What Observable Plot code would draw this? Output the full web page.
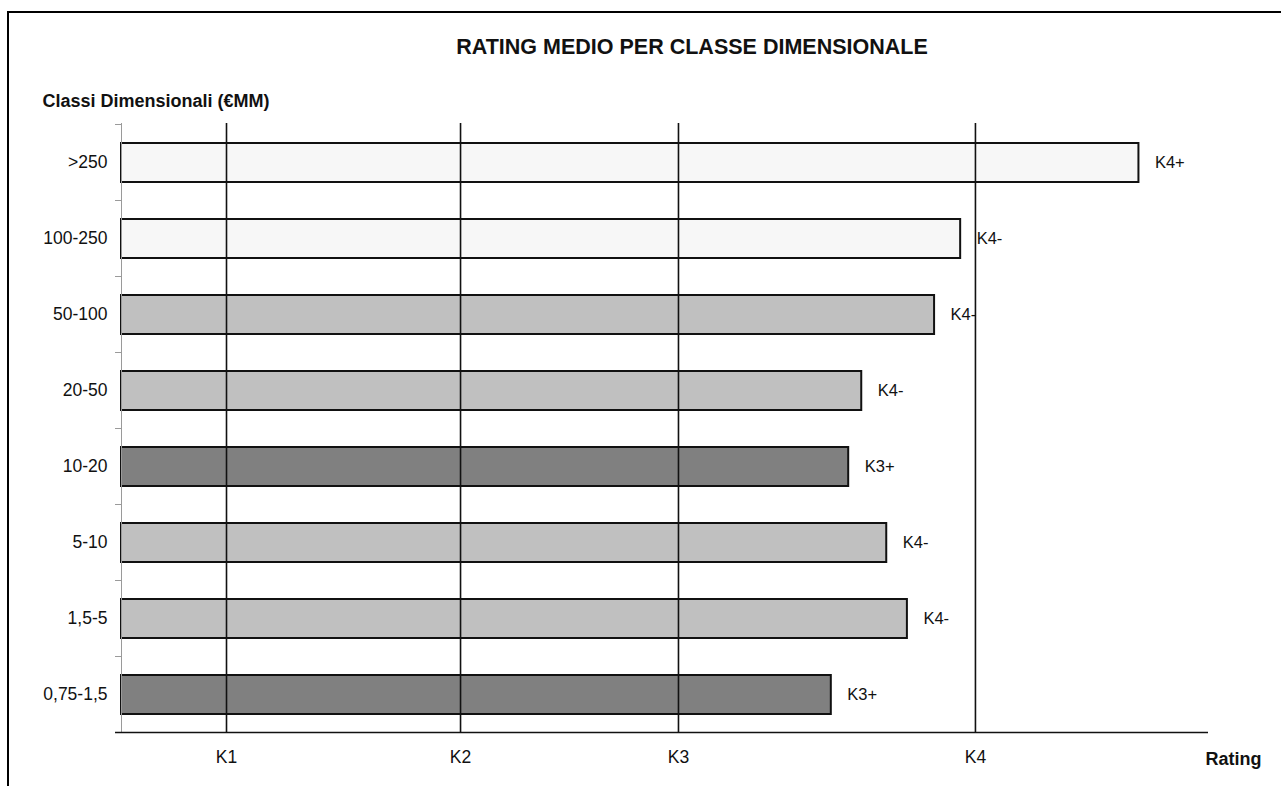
<!DOCTYPE html>
<html>
<head>
<meta charset="utf-8">
<script src="https://cdn.jsdelivr.net/npm/d3@7"></script>
<script src="https://cdn.jsdelivr.net/npm/@observablehq/plot@0.6"></script>
<style>
  html, body { margin: 0; padding: 0; background: #fff; }
  #wrap { position: relative; width: 1281px; height: 786px; overflow: hidden; }
  #border { position: absolute; left: 7px; top: 11px; right: -4px; bottom: -4px;
            border-top: 2px solid #000; border-left: 2px solid #000; }
  #chart { position: absolute; left: 0; top: 0; }
</style>
</head>
<body>
<div id="wrap"><div id="border"></div><div id="chart"></div></div>
<script>
// ---- data ----
const classes = [">250", "100-250", "50-100", "20-50", "10-20", "5-10", "1,5-5", "0,75-1,5"];
const ratings = [9.36, 7.72, 7.48, 6.81, 6.69, 7.04, 7.23, 6.53];
const ratingLabels = ["K4+", "K4-", "K4-", "K4-", "K3+", "K4-", "K4-", "K3+"];
const shades = ["chiaro", "chiaro", "medio", "medio", "scuro", "medio", "medio", "scuro"];
const tickValues = [0.966, 3.119, 5.124, 7.856];
const tickLabels = ["K1", "K2", "K3", "K4"];
const title = "RATING MEDIO PER CLASSE DIMENSIONALE";
const yTitle = "Classi Dimensionali (€MM)";
const xTitle = "Rating";

const data = classes.map((c, i) => ({classe: c, rating: ratings[i], label: ratingLabels[i], shade: shades[i]}));
const tickFmt = new Map(tickValues.map((v, i) => [v, tickLabels[i]]));
const font = "'Liberation Sans', Arial, Helvetica, sans-serif";

const chart = Plot.plot({
  width: 1281,
  height: 786,
  marginLeft: 121,
  marginRight: 73,
  marginTop: 123,
  marginBottom: 53,
  style: {fontFamily: font, fontSize: "17.5px", color: "#111", background: "transparent"},
  x: {domain: [0, 10], ticks: tickValues, tickFormat: d => tickFmt.get(d), tickSize: 0, tickPadding: 17, label: null},
  y: {domain: classes, padding: 0, tickSize: 0, tickPadding: 14, label: null},
  color: {domain: ["chiaro", "medio", "scuro"], range: ["#f7f7f7", "#c0c0c0", "#808080"]},
  marks: [
    Plot.barX(data, {y: "classe", x: "rating", fill: "shade", stroke: "#111", strokeWidth: 2, insetTop: 19, insetBottom: 18}),
    Plot.ruleX(tickValues, {stroke: "#111", strokeWidth: 1.6}),
    Plot.ruleX([0], {stroke: "#9a9a9a", strokeWidth: 1}),
    Plot.ruleY(classes, {y: d => d, x1: -0.055, x2: 0, dy: -38, stroke: "#9a9a9a", strokeWidth: 1}),
    Plot.ruleY([classes[classes.length - 1]], {y: d => d, x1: -0.055, x2: 10, dy: 38, stroke: "#111", strokeWidth: 1.6}),
    Plot.text(data, {y: "classe", x: "rating", text: "label", dx: 16, textAnchor: "start", fontSize: 16.5, fill: "#111"}),
    Plot.text([title], {frameAnchor: "top", lineAnchor: "middle", dx: 27, dy: -76, fontSize: 21.5, fontWeight: "bold", fill: "#111"}),
    Plot.text([yTitle], {frameAnchor: "top-left", textAnchor: "start", lineAnchor: "middle", dx: -79, dy: -22, fontSize: 18, fontWeight: "bold", fill: "#111"}),
    Plot.text([xTitle], {frameAnchor: "bottom-right", textAnchor: "start", lineAnchor: "middle", dx: -3, dy: 26, fontSize: 18, fontWeight: "bold", fill: "#111"})
  ]
});
document.getElementById("chart").appendChild(chart);
</script>
</body>
</html>
